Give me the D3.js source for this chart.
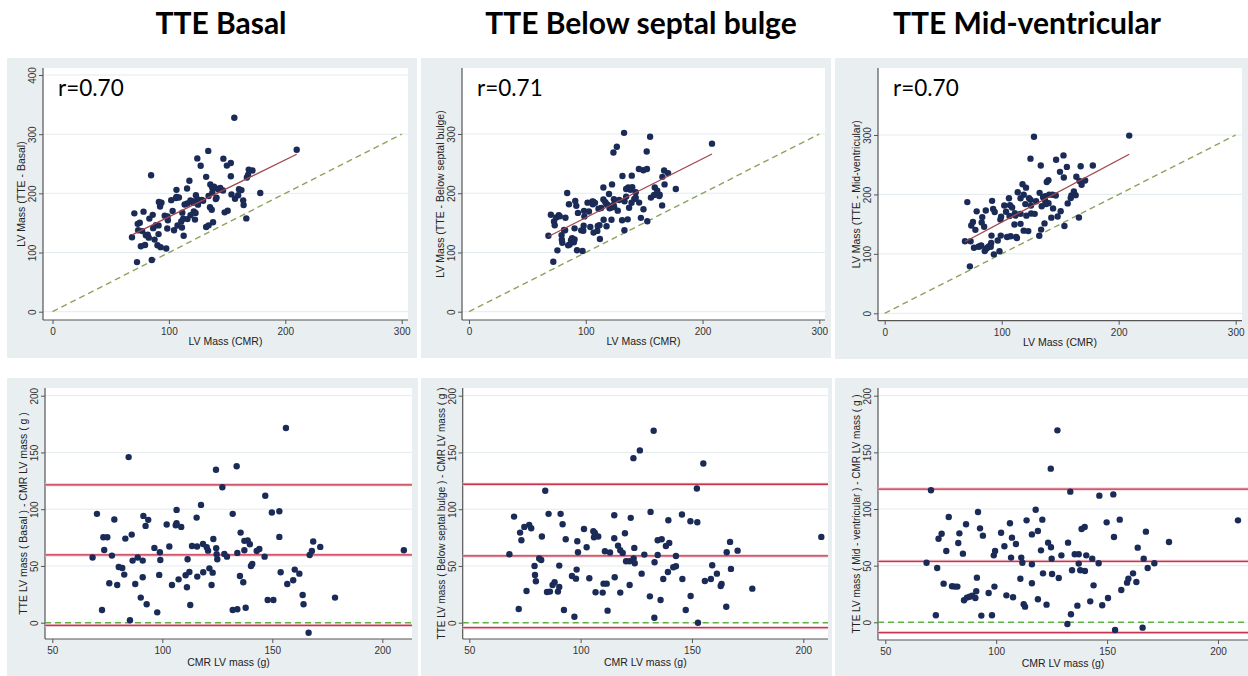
<!DOCTYPE html>
<html><head><meta charset="utf-8">
<script src="https://cdn.jsdelivr.net/npm/d3@7"></script>
<style>body{margin:0;background:#fff} svg{display:block}</style>
</head><body>
<svg id="c" width="1248" height="676"></svg>
<script>
// ---------- text ----------
const titles = ["TTE Basal", "TTE Below septal bulge", "TTE Mid-ventricular"];
const rLabels = ["r=0.70", "r=0.71", "r=0.70"];
const scatterYTitles = ["LV Mass (TTE - Basal)", "LV Mass (TTE - Below septal bulge)", "LV Mass (TTE - Mid-ventricular)"];
const baYTitles = ["TTE LV mass ( Basal ) - CMR LV mass ( g )", "TTE LV mass ( Below septal bulge ) - CMR LV mass ( g )", "TTE LV mass ( Mid - ventricular ) - CMR LV mass ( g )"];
const scatterXTitle = "LV Mass (CMR)";
const baXTitle = "CMR LV mass (g)";

// ---------- ticks ----------
const scatterXTicks = [0, 100, 200, 300];
const scatterYTicksBasal = [0, 100, 200, 300, 400];
const scatterYTicks = [0, 100, 200, 300];
const baXTicks = [50, 100, 150, 200];
const baYTicks = [0, 50, 100, 150, 200];

// ---------- data: CMR LV mass (g) and TTE - CMR difference (g) ----------
const basalCMR = [68.3,70.3,72.6,73.2,73.6,75,75.9,77.1,78.2,79.5,80.2,81.8,82.7,83.2,84.7,85.3,86.1,86.5,87.7,88.8,90.2,91.1,91.1,91.4,92.4,92.9,93.6,96.4,97.7,98.6,98.9,99.1,102,103.2,104.4,106.1,106.5,106.5,107.4,108.6,110.6,111.2,111.5,112.3,112.7,113.5,115.6,115.8,115.9,117.6,118.5,118.6,120.2,120.8,121.4,122.4,122.9,123.2,124.4,124.5,124.7,125,127.3,128.2,129.4,132,132,133.8,134.1,134.1,135.3,135.6,136.8,137.3,137.3,137.9,138.8,139.8,140.3,140.9,142.9,144.1,146.5,146.8,147.9,149.8,150.5,153.2,153.2,153.8,156.2,156.8,159.5,160.2,162.3,163.8,164.2,166.5,167,168,168.6,171.8,178.5,209.8];
const basalDiff = [57.4,95.9,11.2,75.3,64.1,75.3,34.7,59.1,90.9,33.2,49.1,48.2,42.4,74.1,145.9,2.1,77.6,54.7,34.1,57.4,22.1,54.7,40,94.1,85.3,16.2,90.6,65.9,9.1,42.1,62.1,55.3,86.5,67.1,33.2,85.9,87.6,99.4,38.2,84.4,41.8,31.2,55.9,44.7,15.6,67.6,92.6,67.1,40.6,103.8,69.4,44.4,66.5,63.5,47.9,33.2,44.1,73.8,134.7,65.6,60.3,55.9,119.4,60.6,58.2,95.9,11.2,137.9,61.5,11.8,41.2,79.4,35.6,63.8,72.1,13.2,72.4,69.1,50,51.8,63.2,65,58.2,111.8,20,97.1,20,98.2,75.6,44.4,171.5,34.1,37.4,46.8,43.2,24.4,16.2,-8.8,59.7,63.2,71.5,66.8,22.1,63.8];

const septalCMR = [68,70.1,72.2,72.8,73.4,74.7,75.7,76.9,77.8,79.3,79.9,79.5,81.4,82.3,82.6,84.1,84.9,85.6,86.2,87.4,88.3,89.8,90.4,90.4,91,91.9,92.5,93.3,96.1,97.2,97.9,98.2,98.5,98.8,101.5,102.7,103.9,105.7,106,106.4,106.7,107.9,109.9,110.3,110.9,111.7,112.1,113.2,115.1,115.1,115.3,116.8,117.8,117.8,118.9,119.9,120.4,121.9,122,122.5,123.7,123.8,124.1,124.3,126.6,127.4,128.6,131.1,131.4,132.8,133.1,133.2,134.6,134.6,135.9,136.4,137.1,138.3,139.2,139.4,139.8,141.6,142.8,142.8,145.5,145.7,147.2,149.3,149.4,152.2,152.4,152.7,155.1,155.8,158.5,159.1,161.2,162.9,163.3,165.4,165.6,167.1,167.5,170.5,177.1,208.1];
const septalDiff = [60.3,93.5,12.1,79.4,72.6,84.4,27.9,86.2,83.2,50,36.5,42.1,56.5,55.3,75.9,116.2,27.1,95.9,27.4,33.2,35.6,27.4,31.5,50.3,95.9,86.8,11.2,73.5,41.2,5.3,38.8,46.8,71.8,62.1,82.6,66.5,39.1,80.6,75.3,79.1,26.8,75.9,26.5,34.4,62.9,34.4,10.6,61.8,94.7,74.4,40,67.9,63.8,26.5,61.5,78.8,54.1,54.1,33.2,92.4,145,56.5,65.9,52.4,151.8,43.2,60,23.2,97.6,169.1,4.4,53.2,59.7,72.6,20,73.5,38.5,67.6,44.7,90.3,70.3,48.8,49.7,58.8,95.3,38.5,11.2,89.4,23.5,118.2,88.5,0,140.3,36.8,38.5,50.6,43.2,32.4,34.1,14.1,62.1,71.2,47.4,63.5,30,75.6];

const midCMR = [68.6,70.6,72.8,73.4,74,75.4,76.3,77.5,78.6,80.1,81.4,82.5,82.9,83.4,85,85.5,86.4,86.8,88,89.2,90.6,91,91.3,91.8,92.7,93.3,94,96.6,98.1,98.9,99.2,99.5,102.2,103.7,104.6,106.2,106.7,107.1,107.6,108.9,110.9,111.3,111.8,112.4,113,113.7,116.1,116.1,116.1,117.8,118.8,118.8,120.2,120.8,121.1,122.7,123.4,124.6,124.7,125,125.2,127.6,128.2,129.4,132.1,132.4,133.4,133.7,134.2,135.4,136.6,137.2,137.2,137.9,138.5,139.9,140,140.6,142.4,143.3,143.9,146.2,146.5,147.8,149.8,150.4,152.8,153.1,153.6,155.7,156.4,159,159.6,161.7,163.2,163.8,166,166.5,167.5,168.3,171.3,177.9,209];
const midDiff = [52.6,116.5,6.2,47.9,73.8,78.2,34.1,62.9,92.9,31.8,31.5,31.5,70,78.5,60.6,19.4,86.5,21.8,22.6,23.5,21.5,27.4,39.4,97.4,82.9,5.9,76.5,25.9,6.2,59.1,31.5,62.9,79.1,67.1,23.8,87.4,57.1,74.7,22.1,69.1,38.5,57.1,52.6,15.9,13.8,90,77.6,51.2,34.4,99.4,80.6,20.3,63.5,90.6,43.2,15.6,70.3,135.6,66.2,56.2,42.6,169.4,39.1,59.1,-1.5,70.3,115.3,7.1,45.9,60,14.7,51.8,60,45.9,82.4,84.1,45.3,59.1,18.5,56.2,32.6,52.1,111.8,15,88.2,21.5,112.9,75.3,-6.8,90.6,28.5,35,38.5,43.2,35.6,65.9,-4.7,56.2,80,47.9,52.1,70.9,90];

// Bland-Altman lines: [lower limit, mean, upper limit]
const basalLimits = [-2.4, 59.7, 121.5];
const septalLimits = [-4.4, 58.8, 122];
const midLimits = [-9.1, 53.8, 117.6];

// ---------- layout ----------
const methods = [
  {cmr: basalCMR, diff: basalDiff, lim: basalLimits, yTicks: scatterYTicksBasal, yMax: 400,
   top: {bg:[7,58,417,358], rect:[43,68,408,320], xr:[52.5,401.7], yr:[311.7,75]},
   bot: {bg:[7,378,418,676], rect:[45,388,412,639], xr:[52.3,382.3], yr:[622.7,395.7]}, cx: 221},
  {cmr: septalCMR, diff: septalDiff, lim: septalLimits, yTicks: scatterYTicks, yMax: 300,
   top: {bg:[421,58,831,358], rect:[462,68,825,320], xr:[469,819.3], yr:[311.7,134]},
   bot: {bg:[421,378,832,676], rect:[462.7,388,828,639], xr:[469.3,803.3], yr:[622.7,395.7]}, cx: 641},
  {cmr: midCMR, diff: midDiff, lim: midLimits, yTicks: scatterYTicks, yMax: 300,
   top: {bg:[835,58,1248,359], rect:[878,68,1242,320.7], xr:[884.7,1235.7], yr:[313.3,135]},
   bot: {bg:[835,378,1248,676], rect:[878,388,1248,640], xr:[885.3,1218], yr:[622.3,395.7]}, cx: 1027}
];

const svg = d3.select("#c");
const font = "'Liberation Sans', Arial, Helvetica, sans-serif";
const navy = "#1b2b57";
const axisCol = "#555";

function frame(p, x, y, xTicks, yTicks, xTitle, yTitle, opt) {
  const [l, t, r, b] = p.rect;
  svg.append("rect").attr("x", p.bg[0]).attr("y", p.bg[1]).attr("width", p.bg[2]-p.bg[0]).attr("height", p.bg[3]-p.bg[1]).attr("fill", "#e9eef1");
  svg.append("rect").attr("x", l).attr("y", t).attr("width", r-l).attr("height", b-t).attr("fill", "#fff");
  const grid = svg.append("g");
  yTicks.forEach(v => grid.append("line").attr("x1", l).attr("x2", r).attr("y1", y(v)).attr("y2", y(v))
    .attr("stroke", "#e3ebee").attr("stroke-width", 1));
  // x axis
  const gx = svg.append("g").attr("transform", `translate(0,${b})`)
    .call(d3.axisBottom(x).tickValues(xTicks).tickSize(4));
  gx.select(".domain").remove();
  gx.selectAll(".tick line").attr("stroke", axisCol);
  gx.selectAll(".tick text").attr("y", opt.xLab).attr("dy", 0).attr("fill", "#333")
    .style("font-family", font).style("font-size", "10px");
  svg.append("line").attr("x1", l).attr("x2", r).attr("y1", b).attr("y2", b).attr("stroke", axisCol).attr("stroke-width", 1.2);
  // y axis
  const gy = svg.append("g").attr("transform", `translate(${l},0)`)
    .call(d3.axisLeft(y).tickValues(yTicks).tickSize(4));
  gy.select(".domain").remove();
  gy.selectAll(".tick line").attr("stroke", axisCol);
  gy.selectAll(".tick text").attr("transform", "rotate(-90)").attr("x", 0).attr("y", -7).attr("dy", 0)
    .attr("text-anchor", "middle").attr("fill", "#333")
    .style("font-family", font).style("font-size", "10px");
  svg.append("line").attr("x1", l).attr("x2", l).attr("y1", t).attr("y2", b).attr("stroke", axisCol).attr("stroke-width", 1.2);
  // titles
  svg.append("text").attr("x", (l+r)/2).attr("y", b + opt.xTitle).attr("text-anchor", "middle")
    .style("font-family", font).style("font-size", "10.5px").attr("fill", "#222").text(xTitle);
  svg.append("text").attr("transform", `translate(${l-18},${(t+b)/2}) rotate(-90)`).attr("text-anchor", "middle")
    .style("font-family", font).style("font-size", opt.yTitleSize).attr("fill", "#222").text(yTitle);
}

methods.forEach((m, i) => {
  // heading
  svg.append("text").attr("x", m.cx).attr("y", 34).attr("text-anchor", "middle")
    .style("font-family", "Lato, 'Open Sans', sans-serif").style("font-weight", "bold").style("font-size", "30px")
    .attr("fill", "#000").text(titles[i]);

  const pts = m.cmr.map((c, k) => ({cmr: c, diff: m.diff[k], tte: c + m.diff[k]}));

  // ---------- scatter ----------
  const T = m.top;
  const xs = d3.scaleLinear().domain([0, 300]).range(T.xr);
  const ys = d3.scaleLinear().domain([0, m.yMax]).range(T.yr);
  frame(T, xs, ys, scatterXTicks, m.yTicks, scatterXTitle, scatterYTitles[i], {xLab: 15, xTitle: 25, yTitleSize: "10.5px"});
  // line of equality
  svg.append("line").attr("x1", xs(0)).attr("y1", ys(0)).attr("x2", xs(300)).attr("y2", ys(300))
    .attr("stroke", "#8da35c").attr("stroke-width", 1.4).attr("stroke-dasharray", "6,4");
  // points
  svg.append("g").selectAll("circle").data(pts).join("circle")
    .attr("cx", d => xs(d.cmr)).attr("cy", d => ys(d.tte)).attr("r", 3.2).attr("fill", navy);
  // linear fit
  const mx = d3.mean(pts, d => d.cmr), my = d3.mean(pts, d => d.tte);
  const slope = d3.sum(pts, d => (d.cmr-mx)*(d.tte-my)) / d3.sum(pts, d => (d.cmr-mx)**2);
  const icpt = my - slope*mx;
  const [x0, x1] = d3.extent(pts, d => d.cmr);
  svg.append("line").attr("x1", xs(x0)).attr("y1", ys(icpt+slope*x0)).attr("x2", xs(x1)).attr("y2", ys(icpt+slope*x1))
    .attr("stroke", "#a2464c").attr("stroke-width", 1.3);
  svg.append("text").attr("x", T.rect[0] + 15).attr("y", 96)
    .style("font-family", "Lato, 'Open Sans', sans-serif").style("font-size", "22.5px").attr("fill", "#000").text(rLabels[i]);

  // ---------- Bland-Altman ----------
  const B = m.bot;
  const xb = d3.scaleLinear().domain([50, 200]).range(B.xr);
  const yb = d3.scaleLinear().domain([0, 200]).range(B.yr);
  frame(B, xb, yb, baXTicks, baYTicks, baXTitle, baYTitles[i], {xLab: 15, xTitle: 27, yTitleSize: i === 0 ? "10.5px" : "10px"});
  const [l, , r] = B.rect;
  m.lim.forEach(v => {
    svg.append("line").attr("x1", l).attr("x2", r).attr("y1", yb(v)).attr("y2", yb(v))
      .attr("stroke", "#f2c4cc").attr("stroke-width", 3);
    svg.append("line").attr("x1", l).attr("x2", r).attr("y1", yb(v)).attr("y2", yb(v))
      .attr("stroke", "#c8354f").attr("stroke-width", 1.3);
  });
  svg.append("line").attr("x1", l).attr("x2", r).attr("y1", yb(0)).attr("y2", yb(0))
    .attr("stroke", "#5fb345").attr("stroke-width", 1.5).attr("stroke-dasharray", "6,4");
  svg.append("g").selectAll("circle").data(pts).join("circle")
    .attr("cx", d => xb(d.cmr)).attr("cy", d => yb(d.diff)).attr("r", 3.2).attr("fill", navy);
});
</script>
</body></html>
